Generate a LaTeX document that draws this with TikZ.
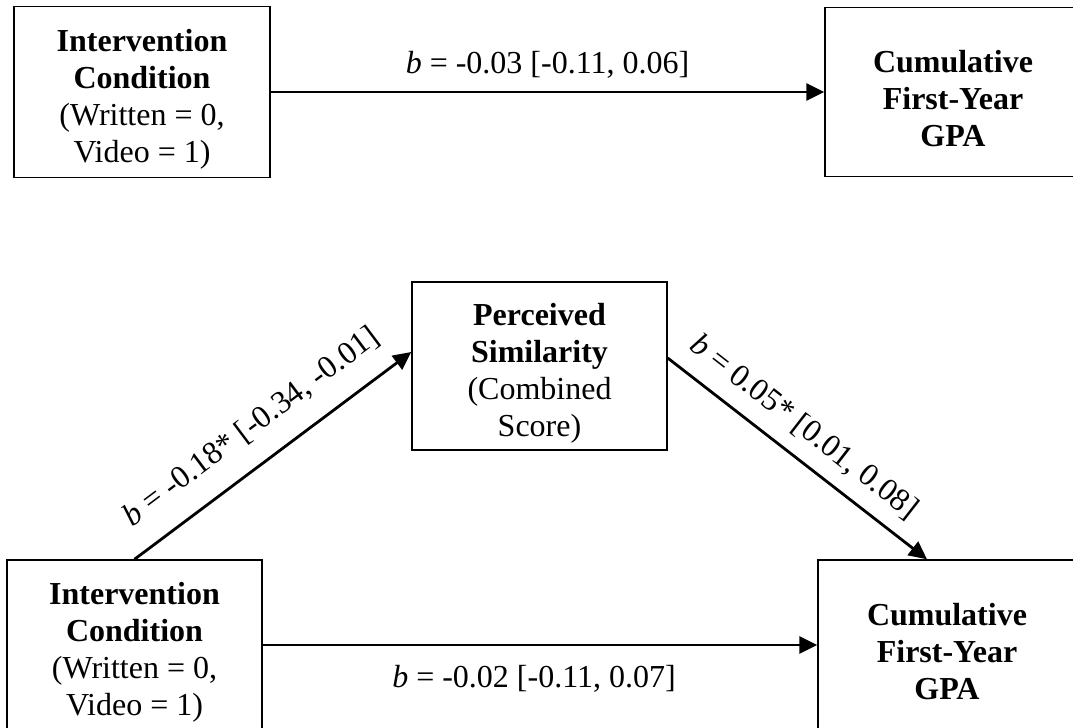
\documentclass[tikz,border=0pt]{standalone}
\usepackage{fontspec}
\setmainfont{Liberation Serif}
\usetikzlibrary{arrows.meta}
\newcommand{\topgap}{\rule{0pt}{18pt}}

\begin{document}
\begin{tikzpicture}[x=0.5pt,y=-0.5pt,
    box/.style={draw,line width=0.7pt,inner sep=0pt,minimum width=128pt,minimum height=85pt,align=center,font=\fontsize{16}{18.5}\selectfont},
    path/.style={line width=1.4pt,-{Triangle[length=9pt,width=8.5pt]}},
    lbl/.style={font=\fontsize{16}{18.5}\selectfont}]
  \useasboundingbox (0,0) rectangle (1073,728);
  % total effect
  \node[box,minimum height=85.5pt] (iv1) at (142,92) {\topgap\textbf{Intervention}\\\textbf{Condition}\\(Written = 0,\\Video = 1)};
  \node[box,minimum height=84.5pt] (gpa1) at (953,92) {\topgap\textbf{Cumulative}\\\textbf{First-Year}\\\textbf{GPA}};
  \draw[path] (iv1) -- (gpa1) node[lbl,midway,above=3pt] {\textit{b} = -0.03 [-0.11, 0.06]};
  % mediation model
  \node[box,minimum width=127.5pt,minimum height=84pt] (sim) at (539.5,366) {\topgap\textbf{Perceived}\\\textbf{Similarity}\\(Combined\\Score)};
  \node[box,minimum width=127.5pt] (iv2) at (134.5,645) {\topgap\textbf{Intervention}\\\textbf{Condition}\\(Written = 0,\\Video = 1)};
  \node[box,minimum width=129pt] (gpa2) at (947,645) {\topgap\textbf{Cumulative}\\\textbf{First-Year}\\\textbf{GPA}};
  \draw[path] (iv2.north) -- ([yshift=7pt]sim.west) node[lbl,midway,sloped,above=7pt] {\textit{b} = -0.18* [-0.34, -0.01]};
  \draw[path] ([yshift=4pt]sim.east) -- ([xshift=-10pt]gpa2.north) node[lbl,pos=0.457,sloped,above=3.6pt] {\textit{b} = 0.05* [0.01, 0.08]};
  \draw[path] (iv2) -- (gpa2) node[lbl,midway,below=6pt,xshift=-3pt] {\textit{b} = -0.02 [-0.11, 0.07]};
\end{tikzpicture}
\end{document}
